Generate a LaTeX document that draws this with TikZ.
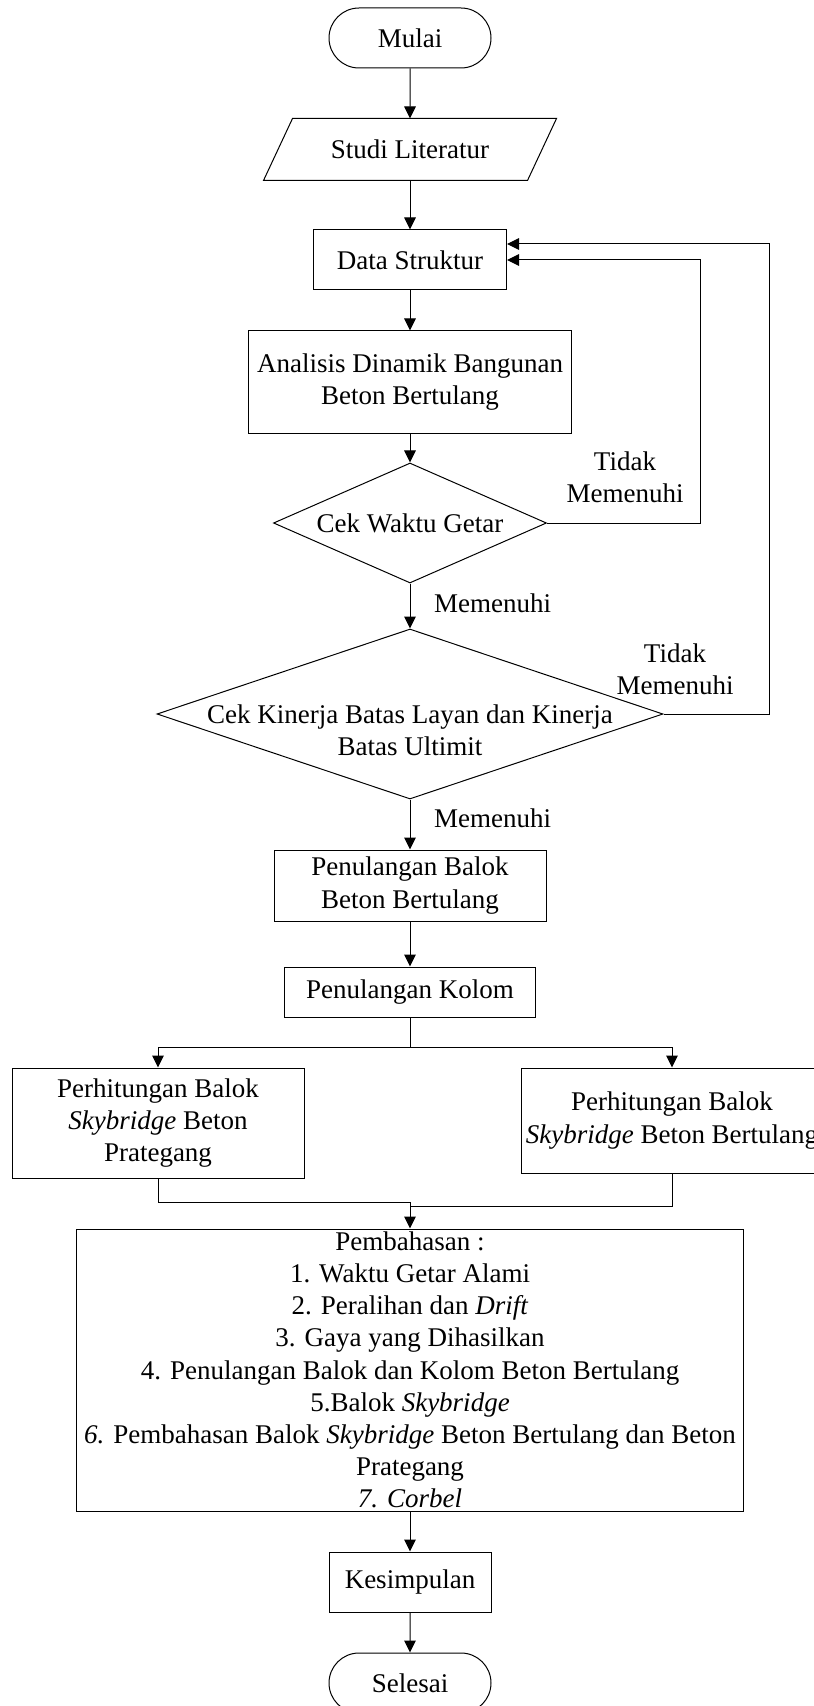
\documentclass[tikz,border=0pt]{standalone}
\usepackage{fontspec}
\setmainfont{Liberation Serif}
\usetikzlibrary{shapes.geometric, shapes.misc, arrows.meta}

\begin{document}
\begin{tikzpicture}[x=0.5pt, y=-0.5pt, line width=0.5pt]

\tikzstyle{every node} = [font=\fontsize{13.5}{16.1}\selectfont, align=center]
\tikzstyle{terminal} = [draw, rounded rectangle, minimum width=81pt, minimum height=30pt, inner sep=0pt]
\tikzstyle{proses} = [draw, rectangle, inner sep=0pt]
\tikzstyle{keputusan} = [draw, diamond, aspect=2.3, inner sep=0pt]
\tikzstyle{panah} = [-{Triangle[length=6pt, width=5.75pt]}]

%Frame
\useasboundingbox (0,0) rectangle (813,1706);

%Start and input
\node[terminal] (mulai) at (410,38) {Mulai};
\node[minimum width=131.5pt, minimum height=30.5pt, inner sep=0pt] (studi) at (410,149.5) {Studi Literatur};
\draw ([xshift=-7.25pt]studi.south west) -- ([xshift=7.25pt]studi.north west) -- ([xshift=7.25pt]studi.north east) -- ([xshift=-7.25pt]studi.south east) -- cycle;

%Analysis
\node[proses, minimum width=96.5pt, minimum height=30pt] (data) at (410,260) {Data Struktur};
\node[proses, minimum width=161.5pt, minimum height=51pt] (analisis) at (410,382) {Analisis Dinamik Bangunan\\Beton Bertulang};

%Checks
\node[keputusan, minimum width=136.5pt, minimum height=60pt] (waktu) at (410,523) {Cek Waktu Getar};
\node[keputusan, minimum width=253pt, minimum height=85pt] (kinerja) at (410,714) {};
\node (kinerjateks) at (410,730) {Cek Kinerja Batas Layan dan Kinerja\\Batas Ultimit};

\node (tidaka) at (625,477) {Tidak\\Memenuhi};
\node (tidakb) at (675,669) {Tidak\\Memenuhi};
\node[anchor=west] (penuhia) at (427,603) {Memenuhi};
\node[anchor=west] (penuhib) at (427,818) {Memenuhi};

%Reinforcement
\node[proses, minimum width=136pt, minimum height=35.5pt] (balok) at (410,885.5) {Penulangan Balok\\Beton Bertulang};
\node[proses, minimum width=125.5pt, minimum height=25pt] (kolom) at (410,992) {Penulangan Kolom};

%Skybridge
\node[proses, minimum width=146pt, minimum height=55pt] (prategang) at (158,1123) {Perhitungan Balok\\\textit{Skybridge} Beton\\Prategang};
\node[proses, minimum width=151pt, minimum height=52.5pt] (bertulang) at (672,1120.5) {Perhitungan Balok\\\textit{Skybridge} Beton Bertulang};

%Discussion and end
\node[proses, minimum width=333.5pt, minimum height=141pt] (bahas) at (410,1370) {Pembahasan :\\1. Waktu Getar Alami\\2. Peralihan dan \textit{Drift}\\3. Gaya yang Dihasilkan\\4. Penulangan Balok dan Kolom Beton Bertulang\\5.Balok \textit{Skybridge}\\\textit{6.} Pembahasan Balok \textit{Skybridge} Beton Bertulang dan Beton\\Prategang\\\textit{7. Corbel}};
\node[proses, minimum width=81pt, minimum height=30pt] (simpul) at (410,1582) {Kesimpulan};
\node[terminal] (selesai) at (410,1683) {Selesai};

\coordinate (belok1) at (700,260);
\coordinate (belok2) at (769,244);
\coordinate (cabang) at (410,1047);
\coordinate (gabung1) at (410,1202);
\coordinate (gabung2) at (410,1206);

%Connectors
\draw[panah] (mulai) -- (studi);
\draw[panah] (studi) -- (data);
\draw[panah] (data) -- (analisis);
\draw[panah] (analisis) -- (waktu);
\draw[panah] (waktu) -- (kinerja);
\draw[panah] (kinerja) -- (balok);
\draw[panah] (balok) -- (kolom);
\draw (kolom) -- (cabang);
\draw[panah] (cabang) -| (prategang);
\draw[panah] (cabang) -| (bertulang);
\draw (prategang) |- (gabung1);
\draw (bertulang) |- (gabung2);
\draw[panah] (gabung1) -- (bahas);
\draw[panah] (bahas) -- (simpul);
\draw[panah] (simpul) -- (selesai);
\draw[panah] (waktu.east) -| (belok1) -- (belok1 -| data.east);
\draw[panah] (kinerja.east) -| (belok2) -- (belok2 -| data.east);

\end{tikzpicture}
\end{document}
